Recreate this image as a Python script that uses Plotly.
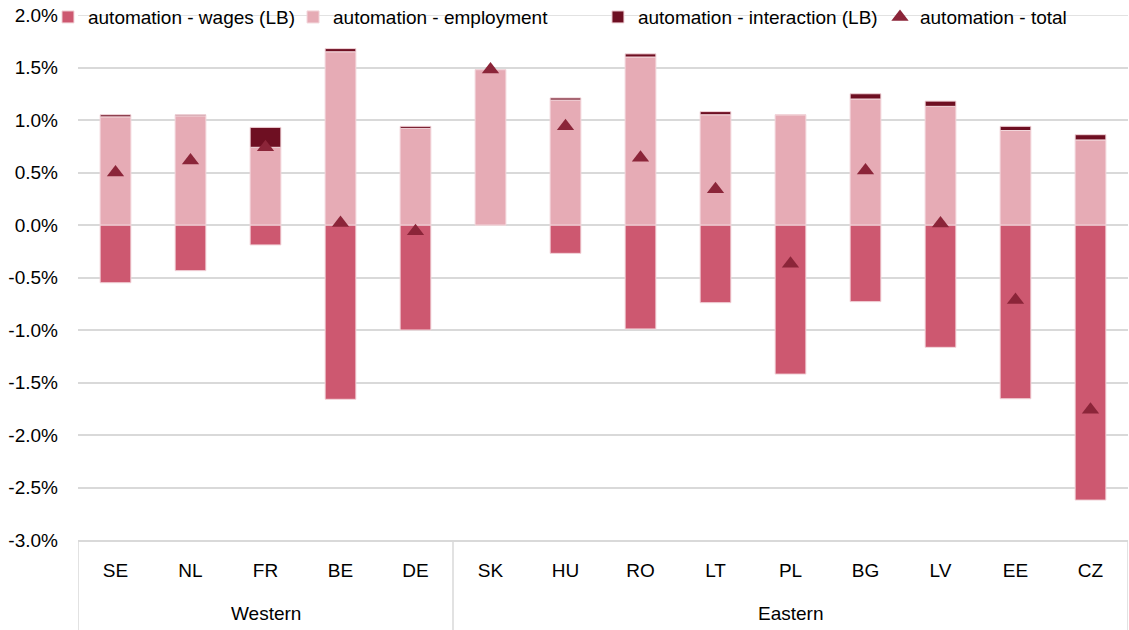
import plotly.graph_objects as go

groups = ["Western", "Eastern"]
group_sizes = [5, 9]
countries = ["SE", "NL", "FR", "BE", "DE", "SK", "HU", "RO", "LT", "PL", "BG", "LV", "EE", "CZ"]

# values in percent
wages = [-0.55, -0.435, -0.19, -1.66, -1.00, 0.0, -0.27, -0.99, -0.74, -1.42, -0.73, -1.165, -1.655, -2.62]
employment = [1.03, 1.04, 0.74, 1.65, 0.92, 1.48, 1.19, 1.60, 1.05, 1.05, 1.20, 1.13, 0.90, 0.81]
interaction = [0.02, 0.01, 0.19, 0.03, 0.02, 0.0, 0.02, 0.03, 0.03, 0.0, 0.05, 0.05, 0.04, 0.05]
total = [0.50, 0.615, 0.74, 0.02, -0.06, 1.48, 0.94, 0.64, 0.34, -0.37, 0.52, 0.015, -0.715, -1.76]

y_ticks = [2.0, 1.5, 1.0, 0.5, 0.0, -0.5, -1.0, -1.5, -2.0, -2.5, -3.0]
y_labels = [f"{v:.1f}%" for v in y_ticks]

FONT = "Liberation Sans"
GRID = "#D9D9D9"
edge = dict(color="#F2D5DA", width=1)

fig = go.Figure()
fig.add_trace(go.Bar(x=countries, y=wages, name="automation - wages (LB)",
                     marker=dict(color="#CD5870", line=edge), legend="legend"))
fig.add_trace(go.Bar(x=countries, y=employment, name="automation - employment",
                     marker=dict(color="#E6ABB5", line=edge), legend="legend2"))
fig.add_trace(go.Bar(x=countries, y=interaction, name="automation - interaction (LB)",
                     marker=dict(color="#6E0F22", line=edge), legend="legend3"))
fig.add_trace(go.Scatter(x=countries, y=total, name="automation - total", mode="markers",
                         marker=dict(symbol="triangle-up", size=15, color="#8B2539"),
                         legend="legend4"))

# group labels and dividers below the category axis
pos = 0
bounds = [-0.5]
for name, n in zip(groups, group_sizes):
    fig.add_annotation(x=pos + (n - 1) / 2, y=-0.14, xref="x", yref="paper",
                       text=name, showarrow=False, yanchor="middle",
                       font=dict(family=FONT, size=19, color="#000000"))
    pos += n
    bounds.append(pos - 0.5)
for b in bounds:
    fig.add_shape(type="line", x0=b, x1=b, y0=0, y1=-0.2, xref="x", yref="paper",
                  line=dict(color=GRID, width=1.5))

# top gridline sits on the plot edge, draw it explicitly
fig.add_shape(type="line", x0=0, x1=1, y0=y_ticks[0], y1=y_ticks[0], xref="paper", yref="y",
              line=dict(color=GRID, width=1.5), layer="below")

def leg(x):
    return dict(x=x, xanchor="left", y=0.996, yanchor="middle", orientation="h",
                bgcolor="rgba(0,0,0,0)", font=dict(family=FONT, size=19, color="#000000"),
                itemwidth=30)

fig.update_layout(
    width=1129, height=630,
    margin=dict(l=78, r=1, t=15, b=90, autoexpand=False),
    barmode="relative",
    bargap=0.59,
    plot_bgcolor="white",
    paper_bgcolor="white",
    font=dict(family=FONT, size=19, color="#000000"),
    legend=leg(-0.0286),
    legend2=leg(0.2048),
    legend3=leg(0.4952),
    legend4=leg(0.7638),
    showlegend=True,
)
fig.update_yaxes(range=[-3, 2], tickvals=y_ticks, ticktext=y_labels,
                 showgrid=True, gridcolor=GRID, gridwidth=1.5, ticklabeloverflow="allow",
                 zeroline=False, ticks="", ticklabelstandoff=19, automargin=False)
fig.update_xaxes(type="category", range=[-0.5, 13.5], showgrid=False, showline=True,
                 linecolor=GRID, linewidth=1.5, ticks="", ticklabelstandoff=12,
                 automargin=False)

# drop the default page margin so the figure sits at the window corner
fig.write_html("out.html", config={"displayModeBar": False},
               post_script="document.body.style.margin = '0';")
